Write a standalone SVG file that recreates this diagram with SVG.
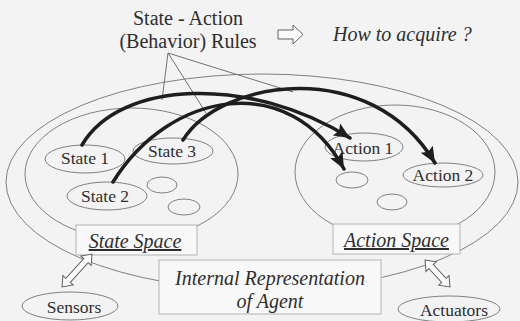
<svg xmlns="http://www.w3.org/2000/svg" width="520" height="321" viewBox="0 0 520 321">
  <defs>
    <style>
      .bg { fill: #f3f3f3; }
      .ell { fill: none; stroke: #808080; stroke-width: 1; }
      .box { fill: #f8f8f8; stroke: #b4b4b4; stroke-width: 1; }
      .thin { fill: none; stroke: #707070; stroke-width: 1; }
      .arc { fill: none; stroke: #1e1e1e; stroke-width: 3.5; stroke-linecap: round; }
      .hollow { fill: #fafafa; stroke: #606060; stroke-width: 1; }
      text { fill: #2e2e2e; font-family: "Liberation Serif", serif; }
      .lbl { font-size: 17.5px; text-anchor: middle; }
      .big { font-size: 20px; text-anchor: middle; }
      .it { font-style: italic; }
      .ul { text-decoration: underline; }
    </style>
    <marker id="ah" markerUnits="userSpaceOnUse" markerWidth="17" markerHeight="14" refX="16" refY="7" orient="auto">
      <path d="M0,0 L16,7 L0,14 L3,7 Z" fill="#1e1e1e"/>
    </marker>
  </defs>

  <rect class="bg" x="0" y="0" width="520" height="321"/>

  <g id="agent">
    <ellipse class="ell" cx="262" cy="182" rx="256" ry="108"/>
  </g>

  <g id="state-space-region">
    <ellipse class="ell" cx="131.5" cy="174" rx="106.5" ry="66"/>
  </g>
  <g id="action-space-region">
    <ellipse class="ell" cx="395" cy="172" rx="100" ry="67"/>
  </g>

  <g id="state1"><ellipse class="ell" cx="85" cy="159" rx="40" ry="14"/><text class="lbl" x="85" y="164" font-family="Liberation Serif">State 1</text></g>
  <g id="state3"><ellipse class="ell" cx="173" cy="151" rx="40" ry="13"/><text class="lbl" x="172" y="157" font-family="Liberation Serif">State 3</text></g>
  <g id="state2"><ellipse class="ell" cx="107" cy="196" rx="40" ry="14"/><text class="lbl" x="105" y="202" font-family="Liberation Serif">State 2</text></g>
  <g id="state-small1"><ellipse class="ell" cx="162" cy="185" rx="15" ry="8"/></g>
  <g id="state-small2"><ellipse class="ell" cx="184" cy="207" rx="16" ry="8"/></g>

  <g id="action1"><ellipse class="ell" cx="364" cy="147" rx="39" ry="14"/><text class="lbl" x="363" y="154" font-family="Liberation Serif">Action 1</text></g>
  <g id="action2"><ellipse class="ell" cx="443" cy="175" rx="40" ry="12"/><text class="lbl" x="443" y="181" font-family="Liberation Serif">Action 2</text></g>
  <g id="action-small1"><ellipse class="ell" cx="352" cy="180" rx="16" ry="8"/></g>
  <g id="action-small2"><ellipse class="ell" cx="392" cy="202" rx="15" ry="8"/></g>

  <g id="rules-label">
    <text class="big" x="188" y="25" font-family="Liberation Serif">State - Action</text>
    <text class="big" x="188" y="48" font-family="Liberation Serif">(Behavior) Rules</text>
  </g>
  <g id="question">
    <text class="big it" x="333" y="41" text-anchor="start" style="text-anchor:start" font-family="Liberation Serif">How to acquire ?</text>
  </g>

  <g id="state-space-box">
    <rect class="box" x="76" y="225" width="121" height="30"/>
    <text class="big it ul" x="135" y="248" font-family="Liberation Serif">State Space</text>
  </g>
  <g id="action-space-box">
    <rect class="box" x="333" y="224" width="127" height="30"/>
    <text class="big it ul" x="396.5" y="247" font-family="Liberation Serif">Action Space</text>
  </g>
  <g id="internal-box">
    <rect class="box" x="159" y="260" width="222" height="54"/>
    <text class="big it" x="270" y="285" font-family="Liberation Serif">Internal Representation</text>
    <text class="big it" x="270" y="308" font-family="Liberation Serif">of Agent</text>
  </g>

  <g id="sensors">
    <ellipse class="ell" cx="70" cy="306" rx="48" ry="14"/>
    <text class="lbl" x="74" y="313" font-family="Liberation Serif">Sensors</text>
  </g>
  <g id="actuators">
    <ellipse class="ell" cx="449" cy="309" rx="51" ry="13"/>
    <text class="lbl" x="454" y="316" font-family="Liberation Serif">Actuators</text>
  </g>

  <g id="connectors">
    <line class="thin" x1="168" y1="53" x2="162" y2="100"/>
    <line class="thin" x1="168" y1="53" x2="206" y2="113"/>
    <line class="thin" x1="168" y1="53" x2="293" y2="92"/>
    <polygon class="hollow" points="278,30 293,30 293,25 303,34.5 293,44 293,39 278,39"/>
    <path class="arc" d="M82,145 C120,80 250,75 350,138" marker-end="url(#ah)"/>
    <path class="arc" d="M113,182 C170,90 290,70 344,169" marker-end="url(#ah)"/>
    <path class="arc" d="M183,140 C220,80 370,55 435,163" marker-end="url(#ah)"/>
    <polygon class="hollow" transform="translate(62,287) rotate(-47.7)" points="0,0 9,-7 9,-3 35.6,-3 35.6,-7 44.6,0 35.6,7 35.6,3 9,3 9,7"/>
    <polygon class="hollow" transform="translate(425,260) rotate(47.2)" points="0,0 9,-7 9,-3 27.8,-3 27.8,-7 36.8,0 27.8,7 27.8,3 9,3 9,7"/>
  </g>
</svg>
